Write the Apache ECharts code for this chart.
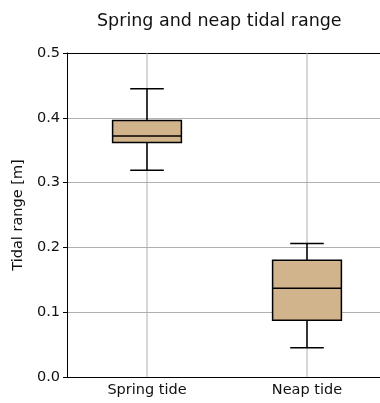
<!DOCTYPE html>
<html>
<head>
<meta charset="utf-8">
<script src="https://cdn.jsdelivr.net/npm/echarts@6/dist/echarts.min.js"></script>
<style>
  html, body { margin: 0; padding: 0; background: #fff; overflow: hidden; }
  #chart { width: 387px; height: 403px; }
</style>
</head>
<body>
<div id="chart"></div>
<script>
// data: [min, q1, median, q3, max]
const categories = ["Spring tide", "Neap tide"];
const springBox = [0.319, 0.362, 0.372, 0.396, 0.445];
const neapBox = [0.045, 0.0875, 0.137, 0.180, 0.206];
const yTicks = [0, 0.1, 0.2, 0.3, 0.4, 0.5];

const chart = echarts.init(document.getElementById("chart"), null, { width: 387, height: 403 });
const font = "DejaVu Sans";
const yMin = yTicks[0];
const yMax = yTicks[yTicks.length - 1];

// vertical grid line + box + whiskers with short caps, like matplotlib
function renderBox(params, api) {
  const idx = api.value(0);
  const vals = [1, 2, 3, 4, 5].map((i) => api.value(i));
  const band = api.size([1, 0])[0];
  const boxW = band * 0.43;
  const capW = band * 0.21;
  const p = vals.map((v) => api.coord([idx, v]));
  const x = p[0][0];
  const top = api.coord([idx, yMax])[1];
  const bottom = api.coord([idx, yMin])[1];
  const line = (x1, y1, x2, y2) => ({
    type: "line",
    shape: { x1, y1, x2, y2 },
    style: { stroke: "#000", lineWidth: 1.5 },
  });
  return {
    type: "group",
    children: [
      {
        type: "line",
        shape: { x1: x, y1: top, x2: x, y2: bottom },
        style: { stroke: "#b0b0b0", lineWidth: 1 },
      },
      line(x, p[0][1], x, p[1][1]),
      line(x, p[3][1], x, p[4][1]),
      line(x - capW / 2, p[0][1], x + capW / 2, p[0][1]),
      line(x - capW / 2, p[4][1], x + capW / 2, p[4][1]),
      {
        type: "rect",
        shape: { x: x - boxW / 2, y: p[3][1], width: boxW, height: p[1][1] - p[3][1] },
        style: { fill: "#d2b48c", stroke: "#000", lineWidth: 1.5 },
      },
      line(x - boxW / 2, p[2][1], x + boxW / 2, p[2][1]),
    ],
  };
}

const option = {
  animation: false,
  textStyle: { fontFamily: font },
  title: {
    text: "Spring and neap tidal range",
    left: 92,
    top: 7,
    textStyle: { fontFamily: font, fontSize: 17.5, fontWeight: "normal", color: "#111" },
  },
  grid: {
    left: 67,
    right: 0,
    top: 53,
    bottom: 26,
  },
  xAxis: [
    {
      type: "category",
      data: categories,
      axisLine: { lineStyle: { color: "#000", width: 1 } },
      axisTick: { alignWithLabel: true, length: 4, lineStyle: { color: "#000" } },
      axisLabel: { color: "#111", fontSize: 14.5, margin: 6 },
      splitLine: { show: false },
    },
    {
      // top spine only
      type: "category",
      data: categories,
      position: "top",
      axisLine: { show: true, lineStyle: { color: "#000", width: 1 } },
      axisTick: { show: false },
      axisLabel: { show: false },
      splitLine: { show: false },
    },
  ],
  yAxis: {
    type: "value",
    min: yMin,
    max: yMax,
    interval: 0.1,
    name: "Tidal range [m]",
    nameLocation: "middle",
    nameGap: 39,
    nameTextStyle: { color: "#111", fontSize: 14.5 },
    axisLine: { show: true, lineStyle: { color: "#000", width: 1 } },
    axisTick: { show: true, length: 4, lineStyle: { color: "#000" } },
    axisLabel: { color: "#111", fontSize: 14.5, margin: 7, formatter: (v) => v.toFixed(1) },
    splitLine: { show: true, lineStyle: { color: "#b0b0b0", width: 1 } },
  },
  series: [
    {
      type: "custom",
      renderItem: renderBox,
      encode: { x: 0, y: [1, 2, 3, 4, 5] },
      data: [
        [0, ...springBox],
        [1, ...neapBox],
      ],
      z: 10,
    },
  ],
};

chart.setOption(option);
</script>
</body>
</html>
